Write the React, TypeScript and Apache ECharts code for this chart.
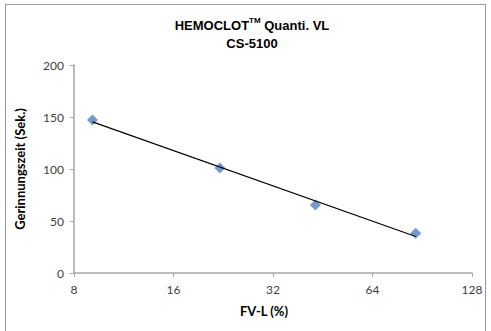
import React, { useEffect, useRef } from "react";
import * as echarts from "echarts";

const fvl = [9.1, 22.1, 43, 86.5];
const clotTime = [147, 101, 65.4, 38.2];
const xTicks = [8, 16, 32, 64, 128];
const yMin = 0;
const yMax = 200;
const yStep = 50;

function logFit(xs: number[], ys: number[]) {
  const lx = xs.map((v) => Math.log(v));
  const n = xs.length;
  const mx = lx.reduce((a, b) => a + b, 0) / n;
  const my = ys.reduce((a, b) => a + b, 0) / n;
  let sxy = 0;
  let sxx = 0;
  for (let i = 0; i < n; i++) {
    sxy += (lx[i] - mx) * (ys[i] - my);
    sxx += (lx[i] - mx) * (lx[i] - mx);
  }
  const b = sxy / sxx;
  const a = my - b * mx;
  return (x: number) => a + b * Math.log(x);
}

export default function App() {
  const ref = useRef<HTMLDivElement>(null);
  useEffect(() => {
    if (!ref.current) return;
    const chart = echarts.init(ref.current, null, { renderer: "svg" });
    const fit = logFit(fvl, clotTime);
    const x0 = fvl[0];
    const x1 = fvl[fvl.length - 1];
    const axisColor = "#a6a6a6";
    const labelColor = "#404040";
    chart.setOption({
      animation: false,
      backgroundColor: "#ffffff",
      grid: { left: 74, right: 19, top: 65, bottom: 58 },
      graphic: [
        {
          type: "text",
          x: 252,
          y: 16,
          style: {
            text: "{b|HEMOCLOT}{sup|TM}{b| Quanti. VL}\n{b|CS-5100}",
            align: "center",
            verticalAlign: "top",
            rich: {
              b: {
                fontFamily: "Liberation Sans, Arial, sans-serif",
                fontWeight: "bold",
                fontSize: 13,
                lineHeight: 18,
                fill: "#000",
              },
              sup: {
                fontFamily: "Liberation Sans, Arial, sans-serif",
                fontWeight: "bold",
                fontSize: 8,
                lineHeight: 18,
                verticalAlign: "top",
                fill: "#000",
              },
            },
          },
        },
      ],
      xAxis: {
        type: "log",
        logBase: 2,
        min: xTicks[0],
        max: xTicks[xTicks.length - 1],
        name: "FV-L (%)",
        nameLocation: "middle",
        nameGap: 31,
        nameTextStyle: {
          fontFamily: "Lato, sans-serif",
          fontWeight: "bold",
          fontSize: 13,
          color: "#000",
          padding: [0, 18, 0, 0],
        },
        axisLine: { lineStyle: { color: axisColor, width: 1.5 } },
        axisTick: { show: true, length: 4, lineStyle: { color: axisColor } },
        axisLabel: {
          color: labelColor,
          fontFamily: "Lato, sans-serif",
          fontSize: 12,
          margin: 10,
        },
        splitLine: { show: false },
        minorTick: { show: false },
      },
      yAxis: {
        type: "value",
        min: yMin,
        max: yMax,
        interval: yStep,
        name: "Gerinnungszeit (Sek.)",
        nameLocation: "middle",
        nameGap: 48,
        nameTextStyle: {
          fontFamily: "Lato, sans-serif",
          fontWeight: "bold",
          fontSize: 13,
          color: "#000",
        },
        axisLine: { show: true, lineStyle: { color: axisColor, width: 1.5 } },
        axisTick: { show: true, length: 4, lineStyle: { color: axisColor } },
        axisLabel: {
          color: labelColor,
          fontFamily: "Lato, sans-serif",
          fontSize: 12,
          margin: 10,
        },
        splitLine: { show: false },
      },
      series: [
        {
          type: "scatter",
          data: fvl.map((x, i) => [x, clotTime[i]]),
          symbol: "diamond",
          symbolSize: 11,
          itemStyle: { color: "#4f81bd" },
          z: 2,
        },
        {
          type: "line",
          data: [
            [x0, fit(x0)],
            [x1, fit(x1)],
          ],
          showSymbol: false,
          symbol: "none",
          lineStyle: { color: "#000", width: 1.2 },
          z: 3,
        },
      ],
    });
    return () => chart.dispose();
  }, []);
  return (
    <div
      style={{
        position: "absolute",
        left: 0,
        top: 0,
        width: 491,
        height: 331,
        overflow: "hidden",
      }}
    >
      <div ref={ref} style={{ position: "absolute", left: 0, top: 0, width: 491, height: 331 }} />
      <div
        style={{
          position: "absolute",
          left: 5,
          top: 4,
          width: 479,
          height: 340,
          border: "1px solid #999999",
          pointerEvents: "none",
        }}
      />
    </div>
  );
}
